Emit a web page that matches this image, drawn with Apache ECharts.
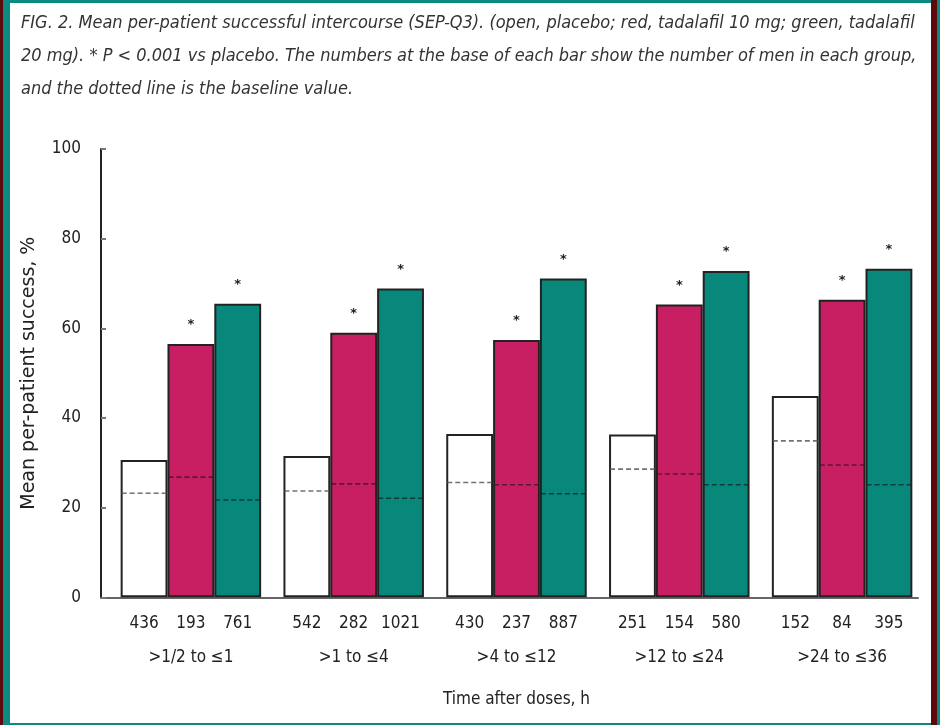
<!DOCTYPE html>
<html>
<head>
<meta charset="utf-8">
<script src="https://cdn.jsdelivr.net/npm/echarts@6/dist/echarts.min.js"></script>
<style>
  html, body { margin: 0; padding: 0; }
  body { width: 940px; height: 725px; background: #0a8a80; position: relative; overflow: hidden; }
  #edgeL { position: absolute; left: 0; top: 0; width: 3px; height: 725px; background: #5a0a0a; }
  #edgeR { position: absolute; left: 931px; top: 0; width: 6px; height: 725px; background: #5a0a0a; }
  #page { position: absolute; left: 10px; top: 3px; width: 921px; height: 720px; background: #ffffff; }
  #chart { position: absolute; left: 0; top: 0; width: 940px; height: 725px; }
</style>
</head>
<body>
<div id="edgeL"></div>
<div id="edgeR"></div>
<div id="page"></div>
<div id="chart"></div>
<script>
// Time windows after dosing
const categories = ['>1/2 to \u22641', '>1 to \u22644', '>4 to \u226412', '>12 to \u226424', '>24 to \u226436'];

// Mean per-patient success (%)
const placebo = [30.6, 31.5, 36.4, 36.3, 44.9];
const tadalafil10 = [56.5, 59.0, 57.4, 65.3, 66.4];
const tadalafil20 = [65.5, 68.9, 71.1, 72.8, 73.3];

// Baseline values (dotted lines)
const basePlacebo = [23.2, 23.7, 25.6, 28.6, 34.9];
const baseT10 = [26.8, 25.3, 25.1, 27.5, 29.5];
const baseT20 = [21.7, 22.1, 23.1, 25.1, 25.1];

// Number of men in each group
const nPlacebo = [436, 542, 430, 251, 152];
const nT10 = [193, 282, 237, 154, 84];
const nT20 = [761, 1021, 887, 580, 395];

// Significance marks (P < 0.001 vs placebo)
const sigT10 = [true, true, true, true, true];
const sigT20 = [true, true, true, true, true];

const yTicks = [0, 20, 40, 60, 80, 100];

const FONT = '"Liberation Sans Narrow", "DejaVu Sans Condensed", "Noto Sans", sans-serif';
const GAP = 0.137;
const RED = '#c81f62';
const GREEN = '#07887b';
const EDGE = '#222222';

function countLabel(arr) {
  return {
    show: true, position: 'bottom', distance: 18,
    fontFamily: FONT, fontSize: 17, color: '#222',
    formatter: p => String(arr[p.dataIndex])
  };
}

// Horizontal geometry of the k-th bar inside a category band
function barSpan(api, cat, k) {
  const p = api.coord([cat, 0]);
  const band = api.size([1, 0])[0];
  const bw = band * (1 - GAP) / 3;
  const left = p[0] - 1.5 * bw + k * bw;
  return [left, bw];
}

// Dashed baseline drawn across the width of the k-th bar in each group
function baselineSeries(values, k, color) {
  return {
    type: 'custom', z: 5, silent: true,
    data: values.map((v, i) => [i, v]),
    renderItem: function (params, api) {
      const [left, bw] = barSpan(api, api.value(0), k);
      const y = api.coord([api.value(0), api.value(1)])[1];
      return {
        type: 'line',
        shape: { x1: left + 1, y1: y, x2: left + bw - 1, y2: y },
        style: { stroke: color, lineWidth: 1.6, lineDash: [5, 3] }
      };
    }
  };
}

// Asterisk placed above the k-th bar where the difference is significant
function starSeries(values, flags, k) {
  return {
    type: 'custom', z: 5, silent: true,
    data: values.map((v, i) => [i, v, flags[i] ? 1 : 0]),
    renderItem: function (params, api) {
      if (!api.value(2)) return null;
      const [left, bw] = barSpan(api, api.value(0), k);
      const y = api.coord([api.value(0), api.value(1)])[1];
      return {
        type: 'text',
        style: {
          text: '*', x: left + bw / 2, y: y - 19,
          align: 'center', verticalAlign: 'middle',
          font: 'bold 13px "DejaVu Sans"', fill: '#222'
        }
      };
    }
  };
}

const chart = echarts.init(document.getElementById('chart'), null, { renderer: 'canvas' });

chart.setOption({
  animation: false,
  backgroundColor: 'transparent',
  title: {
    text: 'FIG. 2. Mean per-patient successful intercourse (SEP-Q3). (open, placebo; red, tadalafil 10 mg; green, tadalafil\n20 mg). * P < 0.001 vs placebo. The numbers at the base of each bar show the number of men in each group,\nand the dotted line is the baseline value.',
    left: 16, top: 2,
    textStyle: {
      fontFamily: FONT, fontStyle: 'italic', fontWeight: 'normal',
      fontSize: 18, color: '#333', lineHeight: 33
    }
  },
  grid: [
    { left: 109.5, right: 16.5, top: 149, bottom: 127.7 },
    { left: 101, right: 22, top: 149, bottom: 127.7 }
  ],
  xAxis: [
    {
      type: 'category', gridIndex: 0, data: categories,
      axisLine: { show: false },
      axisTick: { show: false },
      axisLabel: { margin: 52, fontFamily: FONT, fontSize: 17, color: '#222' },
      name: 'Time after doses, h', nameLocation: 'middle', nameGap: 94,
      nameTextStyle: { fontFamily: FONT, fontSize: 17, color: '#222' }
    },
    {
      type: 'category', gridIndex: 1, data: [''],
      axisLine: { show: true, lineStyle: { color: '#666', width: 2 } },
      axisTick: { show: false }, axisLabel: { show: false }
    }
  ],
  yAxis: [
    {
      type: 'value', gridIndex: 0, min: 0, max: 100, interval: 20, offset: 8.5,
      axisLine: { show: true, lineStyle: { color: '#222', width: 2 } },
      axisTick: { show: true, inside: true, length: 5, lineStyle: { color: '#777', width: 2 } },
      splitLine: { show: false },
      axisLabel: {
        margin: 20, fontFamily: FONT, fontSize: 17, color: '#222',
        formatter: v => yTicks.includes(v) ? String(v) : ''
      },
      name: 'Mean per-patient success, %', nameLocation: 'middle', nameGap: 62, nameRotate: 90,
      nameTextStyle: { fontFamily: '"DejaVu Sans"', fontSize: 19, color: '#222' }
    },
    {
      type: 'value', gridIndex: 1, min: 0, max: 100, show: false
    }
  ],
  series: [
    {
      name: 'Placebo', type: 'bar', data: placebo,
      barGap: '0%', barCategoryGap: (GAP * 100) + '%',
      itemStyle: { color: '#ffffff', borderColor: EDGE, borderWidth: 2 },
      label: countLabel(nPlacebo)
    },
    {
      name: 'Tadalafil 10 mg', type: 'bar', data: tadalafil10,
      itemStyle: { color: RED, borderColor: EDGE, borderWidth: 2 },
      label: countLabel(nT10)
    },
    {
      name: 'Tadalafil 20 mg', type: 'bar', data: tadalafil20,
      itemStyle: { color: GREEN, borderColor: EDGE, borderWidth: 2 },
      label: countLabel(nT20)
    },
    baselineSeries(basePlacebo, 0, 'rgba(90,90,90,0.85)'),
    baselineSeries(baseT10, 1, 'rgba(60,20,40,0.75)'),
    baselineSeries(baseT20, 2, 'rgba(20,40,40,0.8)'),
    starSeries(tadalafil10, sigT10, 1),
    starSeries(tadalafil20, sigT20, 2)
  ]
});
</script>
</body>
</html>
